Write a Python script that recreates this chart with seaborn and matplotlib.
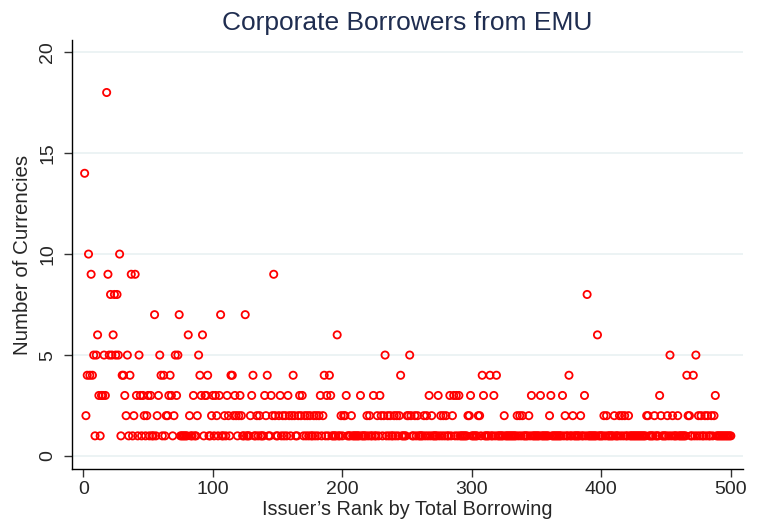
import pandas as pd
import matplotlib
matplotlib.use("Agg")
import matplotlib.pyplot as plt
import seaborn as sns

# issuers ranked 1..500; ranks listed below have more than one currency,
# every other rank borrowed in a single currency
n_issuers = 500

ranks_18 = [18]
ranks_14 = [1]
ranks_10 = [4, 28]
ranks_9 = [6, 19, 37, 40, 147]
ranks_8 = [21, 24, 26, 389]
ranks_7 = [55, 74, 106, 125]
ranks_6 = [11, 23, 81, 92, 196, 397]
ranks_5 = [8, 10, 16, 20, 22, 25, 27, 34, 43, 59, 71, 73, 89, 233, 252, 453, 473]
ranks_4 = [3, 5, 7, 30, 31, 36, 60, 62, 67, 90, 96, 114, 115, 131, 142, 162,
           186, 190, 245, 308, 314, 319, 375, 466, 471]
ranks_3 = [12, 14, 15, 17, 32, 41, 44, 46, 50, 52, 58, 66, 68, 72, 85, 91, 94,
           95, 100, 102, 105, 111, 117, 121, 130, 140, 145, 152, 158, 167, 169,
           183, 188, 191, 203, 214, 224, 229, 267, 274, 283, 286, 288, 290, 299,
           309, 317, 346, 353, 361, 370, 387, 445, 488]
ranks_2 = [2, 33, 39, 47, 49, 57, 64, 65, 70, 82, 88, 99, 103, 109, 112, 116,
           118, 120, 122, 129, 134, 136, 141, 146, 148, 151, 154, 156, 159, 161,
           163, 166, 168, 171, 173, 175, 178, 180, 182, 185, 199, 201, 202, 207,
           219, 221, 227, 230, 232, 235, 237, 240, 242, 244, 250, 251, 253, 256,
           258, 263, 265, 269, 276, 278, 280, 285, 297, 298, 305, 306, 325, 335,
           337, 339, 344, 360, 372, 378, 384, 402, 404, 410, 414, 416, 418, 421,
           435, 436, 441, 446, 451, 455, 459, 467, 468, 475, 477, 480, 482, 485,
           487]

levels = {18: ranks_18, 14: ranks_14, 10: ranks_10, 9: ranks_9, 8: ranks_8,
          7: ranks_7, 6: ranks_6, 5: ranks_5, 4: ranks_4, 3: ranks_3, 2: ranks_2}

rows = []
for value, ranks in levels.items():
    for r in ranks:
        rows.append((r, value))
listed = {r for r, _ in rows}
for r in range(1, n_issuers + 1):
    if r not in listed:
        rows.append((r, 1))
df = pd.DataFrame(rows, columns=["rank", "currencies"]).sort_values("rank")

sns.set_style("white")
plt.rcParams["font.family"] = ["Liberation Sans", "DejaVu Sans"]

fig = plt.figure(figsize=(7.57, 5.24), dpi=100)
ax = fig.add_axes([0.0947, 0.105, 0.887, 0.8187])

sns.scatterplot(data=df, x="rank", y="currencies", ax=ax, marker="o", s=27,
                facecolor="none", edgecolor="red", linewidth=1.3, zorder=3)

ax.set_xlim(-9, 509.5)
ax.set_ylim(-0.64, 20.6)
ax.set_xticks([0, 100, 200, 300, 400, 500])
ax.set_yticks([0, 5, 10, 15, 20])
ax.yaxis.grid(True, color="#EAF2F3", linewidth=1.3, zorder=0)
ax.xaxis.grid(False)

for side in ["top", "right"]:
    ax.spines[side].set_visible(False)
for side in ["left", "bottom"]:
    ax.spines[side].set_color("black")
    ax.spines[side].set_linewidth(1.0)

ax.tick_params(axis="both", which="major", length=6, width=1, color="#333333",
               direction="out", labelsize=14, left=True, bottom=True)
ax.tick_params(axis="x", pad=3)
ax.tick_params(axis="y", pad=5)
plt.setp(ax.get_yticklabels(), rotation=90, va="center")

ax.set_xlabel("Issuer’s Rank by Total Borrowing", fontsize=14.3, labelpad=1)
ax.set_ylabel("Number of Currencies", fontsize=14.8, labelpad=5)
ax.set_title("Corporate Borrowers from EMU", fontsize=19, color="#1f2d50", pad=7)

fig.savefig("out.png", dpi=100)
